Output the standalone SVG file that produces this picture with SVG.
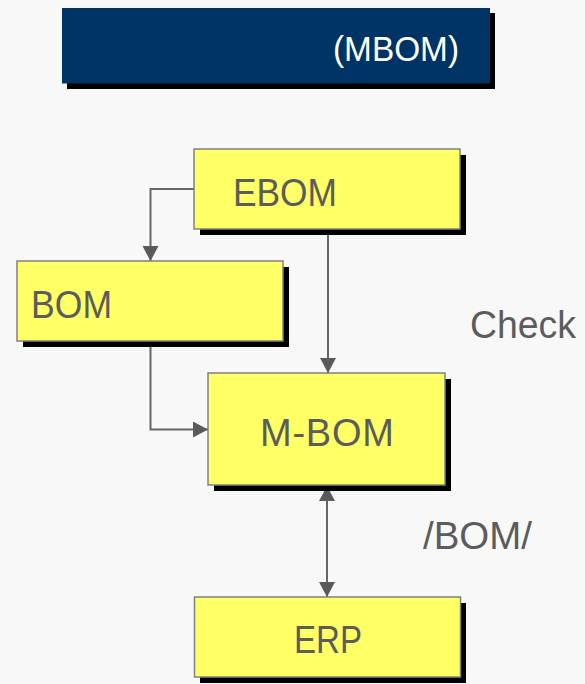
<svg xmlns="http://www.w3.org/2000/svg" width="585" height="684" viewBox="0 0 585 684">
<style>
.box{fill:#ffff66;stroke:#808080;stroke-width:1.5}
.sh{fill:#000}
.lbl{font-family:"Liberation Sans",Arial,sans-serif;font-size:38px;fill:#5c5c5c}
.conn{fill:none;stroke:#666;stroke-width:2}
</style>
<defs>
<marker id="ah" viewBox="0 0 15 16" refX="15" refY="8" markerWidth="15" markerHeight="16" markerUnits="userSpaceOnUse" orient="auto-start-reverse">
<path d="M0,0 L15,8 L0,16 z" fill="#5a5a5a"/>
</marker>
</defs>
<rect width="585" height="684" fill="#f8f8f8"/>
<g id="header">
<rect class="sh" x="67" y="13" width="428" height="76"/>
<rect x="62" y="8" width="428" height="75.5" fill="#003366"/>
<text x="333" y="61" font-family="'Liberation Sans',Arial,sans-serif" font-size="35" fill="#ffffff" textLength="126" lengthAdjust="spacingAndGlyphs">(MBOM)</text>
</g>
<g id="connectors">
<path class="conn" d="M194,189 H150.5 V261" marker-end="url(#ah)"/>
<path class="conn" d="M328,229 V373" marker-end="url(#ah)"/>
<path class="conn" d="M150.5,341 V429.5 H208" marker-end="url(#ah)"/>
<path class="conn" d="M327,486 V597" marker-start="url(#ah)" marker-end="url(#ah)"/>
</g>
<g id="ebom">
<rect class="sh" x="200" y="155" width="266" height="80"/>
<rect class="box" x="194" y="149" width="266" height="80"/>
<text class="lbl" x="233" y="206" textLength="104" lengthAdjust="spacingAndGlyphs">EBOM</text>
</g>
<g id="bom">
<rect class="sh" x="23" y="267" width="266" height="80"/>
<rect class="box" x="17" y="261" width="266" height="80"/>
<text class="lbl" x="31" y="318" textLength="81" lengthAdjust="spacingAndGlyphs">BOM</text>
</g>
<g id="mbom">
<rect class="sh" x="214" y="379" width="237" height="112"/>
<rect class="box" x="208" y="373" width="237" height="112"/>
<text class="lbl" x="260" y="446" textLength="134" lengthAdjust="spacing">M-BOM</text>
</g>
<g id="erp">
<rect class="sh" x="200" y="603" width="266" height="80"/>
<rect class="box" x="194.5" y="597" width="266" height="80"/>
<text class="lbl" x="294" y="653" textLength="68" lengthAdjust="spacingAndGlyphs">ERP</text>
</g>
<g id="labels">
<text class="lbl" x="470" y="338" textLength="106" lengthAdjust="spacingAndGlyphs">Check</text>
<text class="lbl" x="423" y="549" textLength="109" lengthAdjust="spacingAndGlyphs">/BOM/</text>
</g>
</svg>
